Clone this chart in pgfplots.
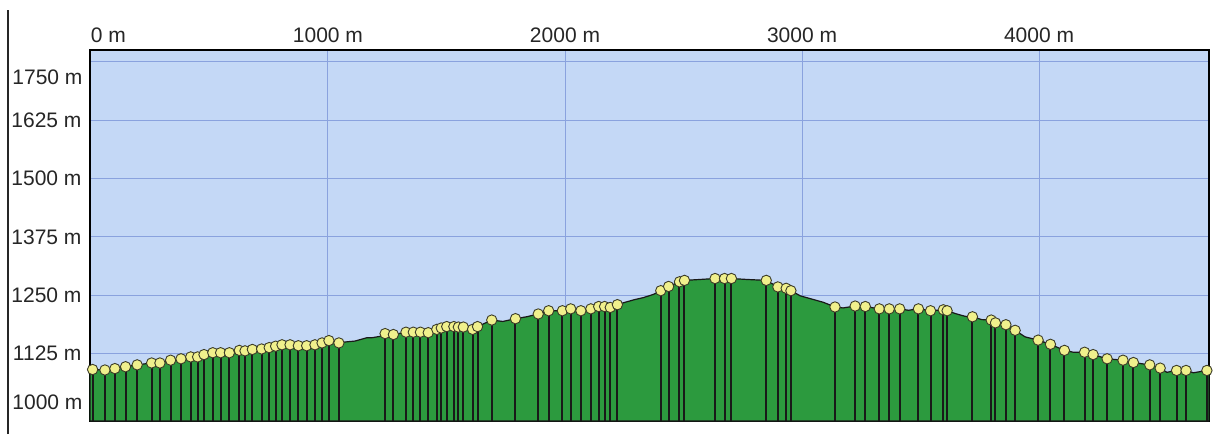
\documentclass[border=0pt]{standalone}
\usepackage{fontspec}
\setmainfont{Liberation Sans}
\usepackage{pgfplots}
\usepackage{pgfplotstable}
\pgfplotsset{compat=1.18}
\definecolor{sky}{RGB}{196,216,246}
\definecolor{gridblue}{RGB}{138,162,222}
\definecolor{terrain}{RGB}{44,154,62}
\definecolor{markfill}{RGB}{240,240,140}
\definecolor{markdraw}{RGB}{60,60,40}
\pgfplotstableread{
x y
-4 1090
7 1091
59 1090
101 1093
146 1097
195 1101
256 1105
291 1105
336 1111
380 1114
421 1118
450 1118
477 1123
514 1127
547 1127
584 1127
626 1132
650 1131
681 1134
720 1135
752 1138
779 1141
806 1144
840 1144
875 1142
910 1142
945 1144
975 1148
1004 1153
1046 1148
1072 1150
1114 1152
1163 1159
1184 1159
1219 1162
1241 1168
1276 1166
1329 1171
1360 1171
1390 1171
1423 1170
1459 1177
1478 1180
1501 1183
1531 1183
1550 1182
1571 1182
1610 1177
1631 1183
1691 1197
1738 1194
1791 1200
1838 1204
1887 1210
1931 1217
1989 1217
2024 1221
2067 1217
2109 1221
2142 1226
2167 1226
2191 1224
2221 1230
2253 1235
2295 1241
2330 1245
2373 1252
2404 1260
2437 1269
2483 1279
2504 1282
2570 1284
2633 1286
2673 1286
2702 1286
2767 1284
2849 1282
2898 1268
2933 1265
2953 1260
2992 1249
3090 1235
3139 1225
3173 1223
3224 1227
3267 1226
3326 1221
3368 1221
3412 1221
3449 1218
3491 1221
3542 1217
3596 1219
3612 1217
3646 1211
3688 1205
3719 1204
3758 1198
3798 1197
3816 1191
3860 1187
3899 1175
3941 1161
3996 1154
4048 1145
4107 1132
4145 1128
4192 1128
4228 1123
4287 1114
4354 1111
4398 1106
4467 1101
4511 1094
4539 1085
4580 1089
4620 1089
4651 1084
4708 1089
4717 1089
}\profile
\pgfplotstableread{
x y
7 1091
59 1090
101 1093
146 1097
195 1101
256 1105
291 1105
336 1111
380 1114
421 1118
450 1118
477 1123
514 1127
547 1127
584 1127
626 1132
650 1131
681 1134
720 1135
752 1138
779 1141
806 1144
840 1144
875 1142
910 1142
945 1144
975 1148
1004 1153
1046 1148
1241 1168
1276 1166
1329 1171
1360 1171
1390 1171
1423 1170
1459 1177
1478 1180
1501 1183
1531 1183
1550 1182
1571 1182
1610 1177
1631 1183
1691 1197
1791 1200
1887 1210
1931 1217
1989 1217
2024 1221
2067 1217
2109 1221
2142 1226
2167 1226
2191 1224
2221 1230
2404 1260
2437 1269
2483 1279
2504 1282
2633 1286
2673 1286
2702 1286
2849 1282
2898 1268
2933 1265
2953 1260
3139 1225
3224 1227
3267 1226
3326 1221
3368 1221
3412 1221
3491 1221
3542 1217
3596 1219
3612 1217
3719 1204
3798 1197
3816 1191
3860 1187
3899 1175
3996 1154
4048 1145
4107 1132
4192 1128
4228 1123
4287 1114
4354 1111
4398 1106
4467 1101
4511 1094
4580 1089
4620 1089
4708 1089
}\points
\begin{document}
\begin{tikzpicture}[x=1pt,y=1pt]
\useasboundingbox (0,0) rectangle (1213,434);
\fill[white] (0,0) rectangle (1213,434);
\draw[line width=2pt, black!85] (8,0) -- (8,424);
\begin{axis}[
  at={(90pt,13pt)}, anchor=south west,
  scale only axis, width=1119pt, height=371pt,
  xmin=-4, xmax=4717, ymin=980.7, ymax=1775.7,
  axis background/.style={fill=sky},
  axis line style={black, line width=1.4pt},
  xtick={0,1000,2000,3000,4000},
  xticklabels={\rlap{0 m},1000 m,2000 m,3000 m,4000 m},
  xticklabel pos=upper,
  ytick={1000,1125,1250,1375,1500,1625,1750},
  yticklabels={,1125 m,1250 m,1375 m,1500 m,1625 m,},
  major tick length=0pt,
  grid=major,
  major grid style={gridblue, line width=1pt},
  tick label style={font=\fontsize{21}{25}\selectfont, text=black!85},
  xticklabel style={yshift=4pt},
  yticklabel style={xshift=-5pt},
  clip mode=individual,
]
\addplot[fill=terrain, draw=black!90, line width=1.2pt] table[x=x,y=y] {\profile} \closedcycle;
\addplot[ycomb, draw=black!90, line width=2pt, mark=none] table[x=x,y=y] {\points};
\addplot[only marks, mark=*, mark size=5.2pt, mark options={fill=markfill, draw=markdraw, line width=0.9pt}] table[x=x,y=y] {\points};
\node[anchor=east, font=\fontsize{21}{25}\selectfont, text=black!85] at (axis cs:-4,1750) [xshift=-4pt, yshift=-15pt] {1750 m};
\node[anchor=east, font=\fontsize{21}{25}\selectfont, text=black!85] at (axis cs:-4,1000) [xshift=-4pt, yshift=10pt] {1000 m};
\end{axis}
\end{tikzpicture}
\end{document}
